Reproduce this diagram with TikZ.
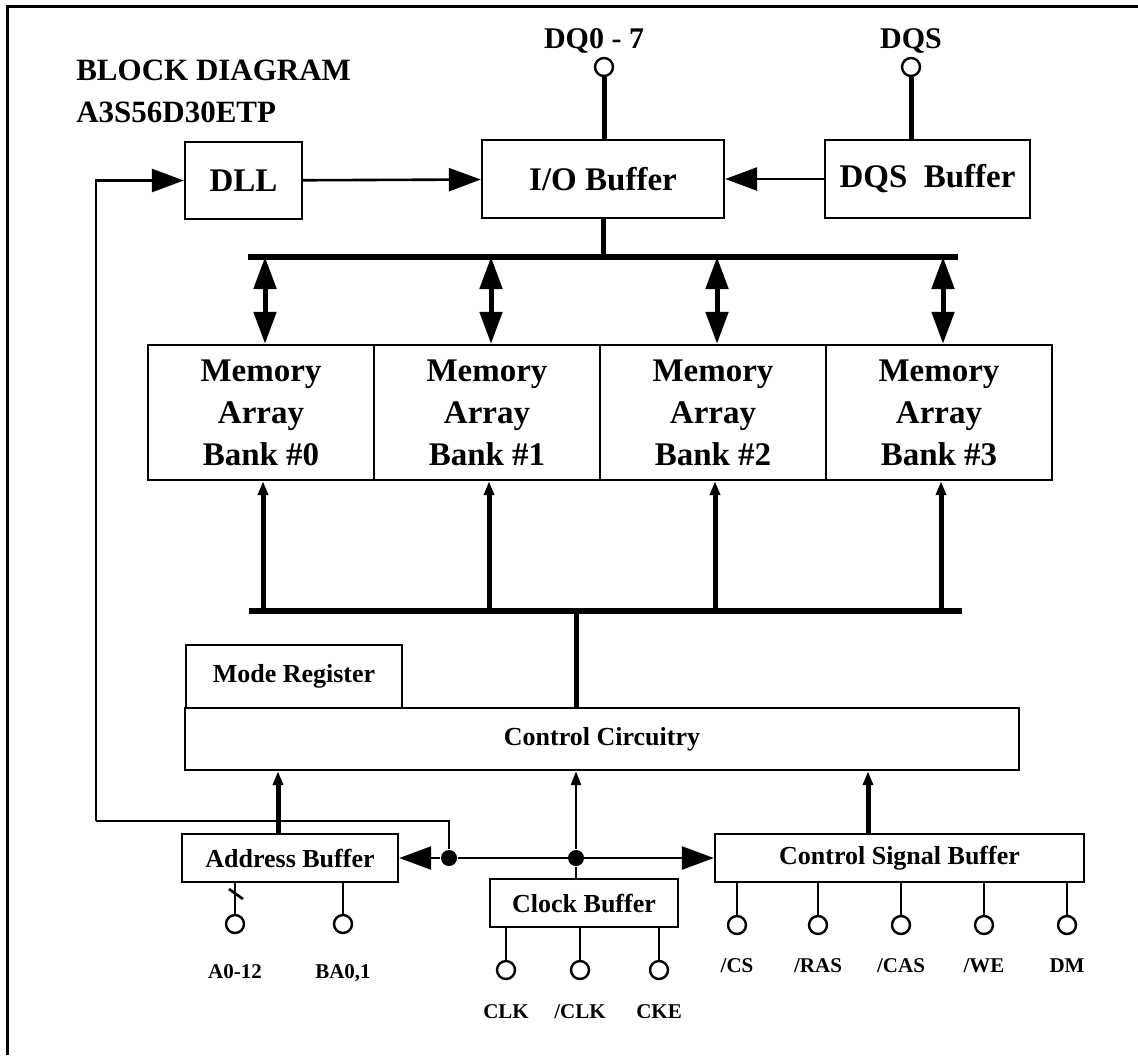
\documentclass[tikz,border=0pt]{standalone}
\usepackage{fontspec}
\setmainfont{Liberation Serif}
\usetikzlibrary{arrows.meta}

\begin{document}
\begin{tikzpicture}[x=0.5pt,y=-0.5pt,line width=1.3pt]
          \tikzstyle{every node}=[font=\bfseries]
          \tikzstyle{blk}=[draw, rectangle, inner sep=0pt, line width=1.2pt]
          \tikzstyle{bigtxt}=[font=\fontsize{16.5}{21}\selectfont\bfseries]
          \tikzstyle{smalltxt}=[font=\fontsize{13}{15}\selectfont\bfseries]
          \tikzstyle{padlbl}=[font=\fontsize{10.5}{12}\selectfont\bfseries, anchor=base]
          \tikzstyle{pad}=[draw, circle, inner sep=0pt, minimum size=9pt, line width=1.2pt, fill=white]
          \tikzstyle{dot}=[fill, circle, inner sep=0pt, minimum width=7pt, minimum height=8pt]
          \tikzstyle{bus}=[line width=3pt]
          \tikzstyle{wide}=[line width=2.5pt]
          \tikzstyle{bigtip}=[-{Triangle[length=16pt,width=11.5pt]}]
          \tikzstyle{dbltip}=[{Triangle[length=16pt,width=11pt]}-{Triangle[length=16pt,width=11pt]}]
          \tikzstyle{thintip}=[-{Triangle[length=7pt,width=5pt]}]
          \useasboundingbox (0,0) rectangle (1138,1055);
          \draw[line width=1.5pt] (7,1055) -- (7,6) -- (1138,6);
          % title
          \node[anchor=base west, inner sep=0pt, font=\fontsize{15.5}{18}\selectfont\bfseries] (title) at (75,80) {BLOCK DIAGRAM};
          \node[anchor=base west, inner sep=0pt, font=\fontsize{15.5}{18}\selectfont\bfseries] (part) at (75,122) {A3S56D30ETP};
          % top row
          \node[blk, bigtxt, minimum width=58.5pt, minimum height=38.5pt] (dll) at (243.5,180.5) {DLL};
          \node[blk, bigtxt, minimum width=121pt, minimum height=39pt] (io) at (603,179) {I/O Buffer};
          \node[blk, bigtxt, minimum width=102.5pt, minimum height=39pt] (dqsbuf) at (927.5,179) {DQS\hspace{0.5em}Buffer};
          \node[pad] (dq) at (604,67) {};
          \node[pad] (dqs) at (911,67) {};
          \node[padlbl, font=\fontsize{15}{17}\selectfont\bfseries] (dqlbl) at (594,48) {DQ0 - 7};
          \node[padlbl, font=\fontsize{15}{17}\selectfont\bfseries] (dqslbl) at (911,48) {DQS};
          % memory banks
          \foreach \i/\x in {0/261,1/487,2/713,3/939}
            \node[blk, bigtxt, align=center, minimum width=113pt, minimum height=67.5pt] (mem\i) at (\x,412.5) {Memory\\Array\\Bank \#\i};
          % control
          \node[blk, smalltxt, minimum width=108pt, minimum height=31.5pt] (mode) at (294,676.5) {Mode Register};
          \node[blk, smalltxt, minimum width=417pt, minimum height=31pt] (ctrl) at (602,739) {Control Circuitry};
          \node[blk, smalltxt, minimum width=108pt, minimum height=24pt] (addr) at (290,858) {Address Buffer};
          \node[blk, smalltxt, minimum width=94pt, minimum height=24pt] (clk) at (584,903) {Clock Buffer};
          \node[blk, smalltxt, minimum width=184.5pt, minimum height=24pt] (csb) at (899.5,858) {Control Signal Buffer};
          \node[dot] (dotA) at (449,858) {};
          \node[dot] (dotB) at (576,858) {};
          % busses
          \coordinate (busTL) at (248,257);
          \coordinate (busTR) at (958,257);
          \coordinate (busBL) at (249,611);
          \coordinate (busBR) at (962,611);
          \draw[bus] (busTL) -- (busTR);
          \draw[bus] (busBL) -- (busBR);
          \draw[wide] (io.south) -- (io.south |- busTL);
          \draw[wide] (dq) -- (io.north -| dq);
          \draw[wide] (dqs) -- (dqsbuf.north -| dqs);
          \draw[wide] (576,611) -- (ctrl.north -| 576,0);
          \foreach \i in {0,1,2,3} {
            \draw[wide, dbltip] ([xshift=2pt]mem\i.north |- busTL) -- ([xshift=2pt]mem\i.north);
            \draw[wide, thintip] ([xshift=1pt]mem\i.south |- busBL) -- ([xshift=1pt]mem\i.south);
          }
          % links
          \path
          (dll)    edge [bigtip] (io)
          (dqsbuf) edge [bigtip] (io);
          \coordinate (fb) at (96,821);
          \draw (dotA) |- (fb);
          \draw[bigtip] (fb) |- (dll.west);
          \draw[bigtip] (dotA) -- (addr.east);
          \draw[bigtip] (dotA) -- (csb.west);
          \draw (dotB) -- (clk.north -| dotB);
          \draw[thintip] (dotB) -- (ctrl.south -| dotB);
          \draw[wide, thintip] (addr.north -| 278,0) -- (ctrl.south -| 278,0);
          \draw[wide, thintip] (csb.north -| 868,0) -- (ctrl.south -| 868,0);
          % pads
          \foreach \n/\x/\t in {a/235/{A0-12}, b/343/{BA0,1}} {
            \node[pad] (p\n) at (\x,924) {};
            \draw (addr.south -| p\n) -- (p\n);
            \node[padlbl] (l\n) at (\x,978) {\t};
          }
          \draw (229,889) -- (243,899);
          \foreach \n/\x/\t in {c/506/{CLK}, d/580/{/CLK}, e/659/{CKE}} {
            \node[pad] (p\n) at (\x,970) {};
            \draw (clk.south -| p\n) -- (p\n);
            \node[padlbl] (l\n) at (\x,1018) {\t};
          }
          \foreach \n/\x/\t in {f/737/{/CS}, g/818/{/RAS}, h/901/{/CAS}, i/984/{/WE}, j/1067/{DM}} {
            \node[pad] (p\n) at (\x,925) {};
            \draw (csb.south -| p\n) -- (p\n);
            \node[padlbl] (l\n) at (\x,972) {\t};
          }
\end{tikzpicture}
\end{document}
